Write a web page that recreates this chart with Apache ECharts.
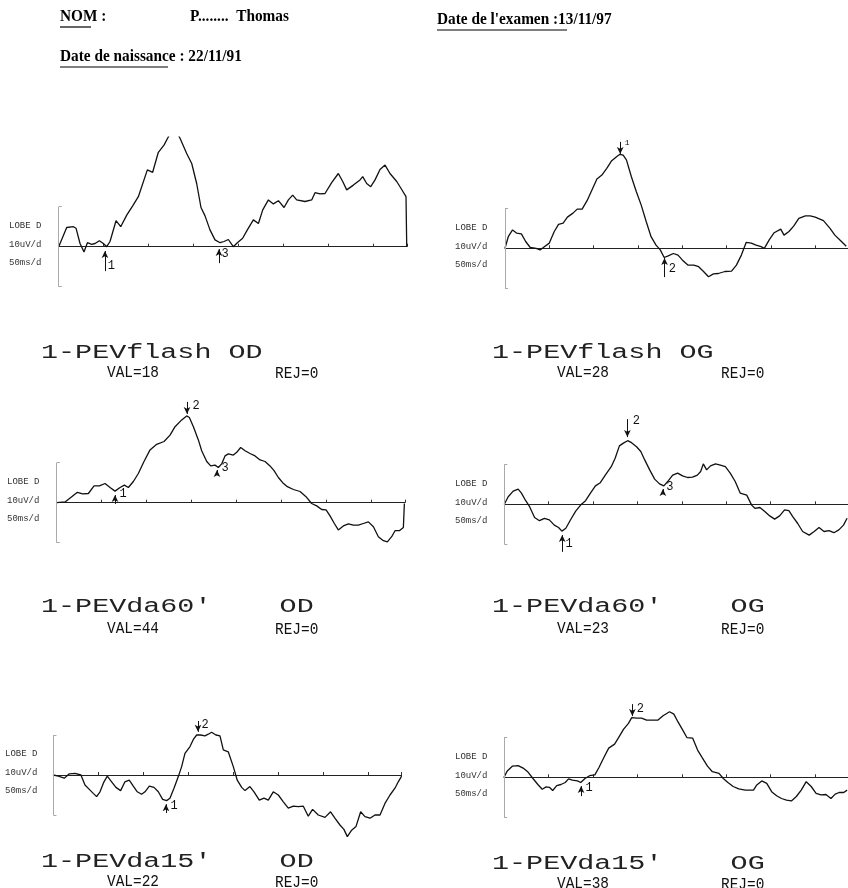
<!DOCTYPE html>
<html>
<head>
<meta charset="utf-8">
<script src="https://cdn.jsdelivr.net/npm/echarts@6/dist/echarts.min.js"></script>
<style>
  html, body { margin: 0; padding: 0; background: #fff; }
  #pev { width: 848px; height: 888px; }
</style>
</head>
<body>
<div id="pev"></div>
<script>
  // traces : [ms, uV]
  var traceFlashOD = [[0,0],[8.9,4.8],[16.3,5],[19.3,4.6],[23.7,0.8],[28.1,-1.3],[31.9,1],[36.7,0.6],[40.4,0.8],[45.2,1.5],[49.6,0.8],[53.3,0],[57,1.3],[63.7,6.5],[68.9,5],[75.6,7.9],[82.2,10.2],[88.5,12.5],[98.5,19.2],[104.4,18.6],[110.7,23.6],[117,25.4],[121,27.1],[128,30],[134.8,27.1],[142.2,23.3],[147.8,20.8],[153.3,15.8],[158.1,9.8],[162.6,7.7],[168.1,4.2],[173.7,1.7],[179.3,1],[183.7,1.3],[188.5,1.8],[194,0],[198.5,1],[204.4,2.1],[209.6,4.2],[216.3,6.7],[221.9,5.8],[226.7,9.2],[233,11.7],[238.5,10.7],[244.1,11.5],[250.4,9.8],[255.2,11.7],[260,12.9],[264.4,11.7],[273.7,11.3],[281.1,11.7],[284.8,13.5],[290.4,13.2],[295.9,13.3],[303.3,16],[310.7,18.3],[315.6,16.3],[320,14.2],[327.4,15.4],[334.8,16.7],[337.8,17.5],[342.2,15.8],[346.7,15],[351.5,16.7],[357,19.3],[362.6,20.4],[368.1,18.3],[375.6,16.3],[381.1,14.3],[385.9,12.5],[386.7,0]];
  var traceFlashOG = [[0,0],[3.7,2.9],[8.5,4.6],[13,3.8],[18.5,3.6],[23.3,1.7],[28.5,0.2],[35.2,0],[39.6,-0.4],[44.4,0.4],[50,1.3],[55.6,4.2],[60.4,6],[65.6,6.3],[70.4,7.8],[76.7,8.8],[81.5,9.8],[87,9.8],[92.6,11.9],[98.1,14.6],[103.7,17.3],[109.3,18.3],[114.8,20],[120.4,21.9],[125.9,22.9],[129.6,23.5],[133.3,23.3],[137,22.1],[142.6,17.9],[148.1,14.2],[153.7,10.8],[159.3,6.7],[164.8,2.9],[170.4,0.8],[175.2,-0.4],[179.6,-2.3],[184.1,-1.9],[190,-1.3],[195.2,-1.7],[200,-2.9],[206.3,-4.2],[213,-4.2],[218.5,-4.6],[224,-5.8],[229.6,-7.1],[235.2,-6.4],[240.7,-6.3],[248.1,-5.8],[255.6,-5.7],[261.1,-4.2],[266.7,-1.7],[272.2,1.5],[277.8,1.3],[283.3,0.8],[288.9,0.4],[292.6,0],[298.1,2.1],[303.7,3.9],[311.1,4.8],[314.8,3.3],[320.4,4.2],[325.9,5.6],[331.5,7.5],[338.9,8.1],[344.4,8.1],[350,7.8],[359.3,6.9],[366.7,5],[372.2,3.3],[379.6,1.7],[385,0.5]];
  var traceDa60OD = [[0,0],[9.3,0.2],[16.7,1.5],[23,2.6],[28.9,2.2],[35.2,2.3],[41.5,4.2],[47.4,4.2],[53.7,4.8],[59.3,3.8],[64.8,2.9],[70.4,3.8],[75.2,4.4],[79.6,3.8],[85.2,5.3],[90.7,7.3],[97,10.3],[103.7,13.2],[111.1,14.6],[119.3,15.3],[125.9,16.9],[131.5,19],[138.9,20.7],[144.4,21.7],[147.4,21.3],[151.9,19],[157.4,15.7],[161.1,13],[166.7,10.3],[171.1,9.2],[175.9,9.4],[179.6,8.8],[183.3,9.7],[187,11.7],[190.7,12.2],[196.3,11.9],[200,12.6],[204.4,13.8],[209.3,13],[214.8,12.3],[220.4,11.7],[226,10.7],[231.5,10.3],[237,9.2],[241.5,8],[246.3,6.3],[251.1,5],[256.3,4],[263,3.3],[270.4,2.8],[277,1.5],[283.3,-0.2],[288.9,-0.8],[294.4,-1.7],[299.3,-1.8],[303.7,-3.3],[308.5,-5.2],[312.9,-6.8],[318.5,-5.8],[324.1,-5.3],[329.6,-5.6],[335.2,-5.6],[340.7,-5.2],[346.3,-4.8],[351.9,-6],[357.4,-8.5],[363,-9.5],[367.4,-9.8],[372.2,-8.5],[375.9,-7],[380.7,-7],[385.2,-6.2],[386.3,-0.2]];
  var traceDa60OG = [[0,0],[4.4,1.9],[10,3.3],[15.6,3.8],[19.3,2.8],[24.1,0.9],[28.5,-0.6],[34.1,-3.3],[39.6,-4.1],[45.2,-3.5],[50.7,-3.9],[56.3,-5.2],[61.1,-5.8],[64.8,-6.7],[69.3,-6],[74.8,-3.8],[80.4,-1.7],[85.9,-0.2],[91.5,0.9],[97,2.8],[102.6,4.6],[108.1,5.4],[113.7,7.3],[120.4,9.4],[124.8,11.5],[129.6,14.6],[134.1,15.3],[138.9,15.9],[143.3,15.4],[148.9,14.4],[153.7,13.2],[158.1,11.1],[163.7,8.6],[169.3,6.3],[174.8,5.1],[179.6,4.6],[184.8,5.9],[189.6,7.3],[195.2,7.8],[200.7,7.1],[206.3,6.7],[211.9,6.8],[217.4,7.3],[221.1,8.2],[224.1,10.1],[227.8,8.6],[232.2,9.6],[237.8,10.1],[243.3,9.8],[248.9,9.4],[254.4,7.8],[260,5.7],[265.6,2.8],[273,2.3],[278.5,-0.2],[282.2,-1],[287.8,-0.8],[293.3,-1.8],[298.9,-2.9],[304.4,-3.7],[310,-2.9],[315.6,-1.4],[320.4,-1.6],[324.8,-3.1],[330.4,-4.8],[335.9,-6.8],[343.3,-7.7],[348.9,-6.8],[354.4,-5.8],[360,-6.8],[365.6,-6.6],[371.1,-7.1],[376.7,-6.4],[381.9,-5.2],[386,-3.5]];
  var traceDa15OD = [[0,0],[5.6,-0.3],[12.2,-0.8],[17.8,0.3],[24.1,0.4],[30.7,0],[35.2,-2.5],[40,-3.6],[44.4,-4.6],[48.1,-5.4],[51.9,-4.2],[56.3,-1.7],[60,-0.3],[64.8,-1.7],[69.6,-3.1],[74.8,-3.9],[79.6,-1.7],[84.4,-1.3],[88.9,-2.8],[93.3,-4.2],[98.1,-4.8],[101.9,-4.2],[106.7,-2.8],[111.9,-3.1],[116.7,-4.2],[121.5,-6.1],[125.9,-6.4],[129.6,-5.8],[134.1,-3.3],[138.9,-0.4],[142.6,2.1],[146.3,5.4],[151.9,7.1],[155.6,8.9],[159.3,10],[163.7,10],[168.5,9.8],[172.2,10.2],[175.9,10.7],[180.7,10],[185.2,9.8],[188.9,6.3],[194.4,5.8],[200,2.1],[204.4,-1.3],[209.3,-3.1],[213,-3.9],[218.5,-2.9],[223,-4.2],[228.9,-6.3],[234.1,-5.8],[238.9,-6.3],[244.4,-4.2],[250,-5],[255.6,-6.7],[261.1,-8.3],[266.7,-7.8],[272.2,-7.9],[277.8,-7.8],[283.3,-10.3],[288.1,-8.6],[294.4,-10],[301.9,-10.6],[308.1,-9.2],[312.9,-10.8],[318.5,-12.5],[322.9,-13.6],[326.7,-15.4],[331.5,-13.8],[336.3,-12.9],[341.5,-9.2],[346.3,-10.4],[351.9,-10.8],[357.4,-10],[363,-10],[368.5,-7.1],[374.1,-5],[379.6,-3.3],[383.3,-1.7],[387,-0.3]];
  var traceDa15OG = [[0,0],[3.7,1.6],[9.6,2.8],[15.9,2.9],[21.5,2.3],[27,1.3],[32.6,-0.3],[38.1,-1.8],[43,-3],[47.4,-2.4],[51.1,-2.5],[54.8,-3.3],[59.3,-2.1],[64.1,-1.8],[68.9,-1.3],[72.6,-0.4],[77,-0.7],[82.6,-0.9],[86.3,-1.3],[91.1,-0.3],[96.3,0.4],[102.2,0.6],[106.7,2.4],[112.2,4.9],[117.8,7.3],[124.4,8.3],[128.9,9.9],[134.4,12],[140,13.5],[143.7,14.9],[149.3,14.8],[154.8,14.8],[160.4,14.3],[165.2,14.3],[173.3,14.3],[178.9,15.4],[186.3,16.4],[191.1,15.8],[195.6,13.9],[201.1,11.8],[205.9,9.9],[212.2,9.8],[217.8,6.8],[223.3,4.8],[228.9,2.8],[234.4,1.4],[241.9,1],[246.7,-0.3],[251.9,-1.3],[257.8,-2.3],[264.1,-2.9],[271.5,-3.2],[280.7,-3.2],[284.4,-1.9],[290,-0.9],[295.6,-1.5],[301.1,-3.6],[306.7,-4.6],[312.2,-5.3],[317.8,-5.7],[323.3,-5.9],[328.9,-4.8],[334.4,-3.2],[340,-1.1],[345.6,-2.3],[351.1,-4],[356.7,-4.4],[362.2,-4.3],[367.8,-5.3],[372.6,-4.2],[377,-3.8],[382.2,-3.8],[386,-3.2]];

  // reperes : fleches [ms, queue uV, pointe uV] et chiffres [ms, uV, texte]
  var arrowsFlashOD = [[51.4,-6.1,-1.1],[178.1,-4.1,-0.6]];
  var digitsFlashOD = [[58.5,-4.8,'1'],[184.8,-1.8,'3']];
  var arrowsFlashOG = [[130,26.6,23.6],[180,-7.2,-2.4]];
  var digitsFlashOG = [[137.8,26.3,'1'],[188.9,-5.2,'2']];
  var arrowsDa60OD = [[144.8,25.2,22.2],[64.8,-0.3,1.9],[178.1,7.2,8.2]];
  var digitsDa60OD = [[154.8,24.2,'2'],[73.7,2.2,'1'],[187,8.7,'3']];
  var arrowsDa60OG = [[138.6,21.3,16.8],[65.2,-11.9,-7.7],[178.6,2.6,3.8]];
  var digitsDa60OG = [[148.6,20.8,'2'],[73,-9.9,'1'],[186.3,4.3,'3']];
  var arrowsDa15OD = [[160.8,13.5,10.8],[125.2,-9.5,-7.3]];
  var digitsDa15OD = [[168.6,12.5,'2'],[134.1,-7.8,'1']];
  var arrowsDa15OG = [[144.4,18.3,15.3],[86.7,-4.7,-2.2]];
  var digitsDa15OG = [[153.3,17.1,'2'],[95.6,-2.7,'1']];

  var titles = ['1-PEVflash OD', '1-PEVflash OG', '1-PEVda60\u2032    OD', '1-PEVda60\u2032    OG', '1-PEVda15\u2032    OD', '1-PEVda15\u2032    OG'];
  var vals = ['VAL=18', 'VAL=28', 'VAL=44', 'VAL=23', 'VAL=22', 'VAL=38'];
  var rejs = ['REJ=0', 'REJ=0', 'REJ=0', 'REJ=0', 'REJ=0', 'REJ=0'];
  var sideLabels = ['LOBE D', '10uV/d', '50ms/d'];

  var traces = [traceFlashOD, traceFlashOG, traceDa60OD, traceDa60OG, traceDa15OD, traceDa15OG];
  var arrows = [arrowsFlashOD, arrowsFlashOG, arrowsDa60OD, arrowsDa60OG, arrowsDa15OD, arrowsDa15OG];
  var digits = [digitsFlashOD, digitsFlashOG, digitsDa60OD, digitsDa60OG, digitsDa15OD, digitsDa15OG];

  // mise en page (px)
  var layout = [
    {left: 58.7, base: 246.7, yMax: 27.4, labelX: 9, titleY: 353, valY: 372},
    {left: 505, base: 248.3, yMax: 30, labelX: 455, titleY: 353, valY: 372},
    {left: 56.7, base: 502.7, yMax: 30, labelX: 7, titleY: 607, valY: 628},
    {left: 504.3, base: 504.3, yMax: 30, labelX: 455, titleY: 607, valY: 628},
    {left: 53.3, base: 775, yMax: 30, labelX: 5, titleY: 862, valY: 881},
    {left: 504, base: 777.3, yMax: 30, labelX: 455, titleY: 864, valY: 883}
  ];
  var X_MAX = 387, PX_MS = 0.9, PX_UV = 4, Y_MIN = -20;

  var grids = [], xAxes = [], yAxes = [], series = [], graphic = [];

  layout.forEach(function (p, i) {
    var right = i % 2 === 1;
    grids.push({
      left: p.left, top: p.base - PX_UV * p.yMax,
      width: X_MAX * PX_MS, height: PX_UV * (p.yMax - Y_MIN)
    });
    xAxes.push({
      type: 'value', gridIndex: i, min: 0, max: X_MAX, interval: 50,
      axisLine: {onZero: true, lineStyle: {color: '#222', width: 1}},
      axisTick: {show: true, inside: true, length: 3, lineStyle: {color: '#333'}},
      axisLabel: {show: false},
      splitLine: {show: false}
    });
    yAxes.push({
      type: 'value', gridIndex: i, min: Y_MIN, max: p.yMax, show: false,
      splitLine: {show: false}
    });

    var lines = [
      // crochet d'echelle 10uV
      [{coord: [0, -10], symbol: 'none'}, {coord: [0, 10], symbol: 'none', lineStyle: {color: '#aaa', width: 1}}],
      [{coord: [0, 10], symbol: 'none'}, {coord: [3.5, 10], symbol: 'none', lineStyle: {color: '#aaa', width: 1}}],
      [{coord: [0, -10], symbol: 'none'}, {coord: [3.5, -10], symbol: 'none', lineStyle: {color: '#aaa', width: 1}}]
    ];
    arrows[i].forEach(function (a) {
      lines.push([{coord: [a[0], a[2]], symbol: 'arrow'}, {coord: [a[0], a[1]], symbol: 'none'}]);
    });

    series.push({
      type: 'line', xAxisIndex: i, yAxisIndex: i,
      data: traces[i], symbol: 'none', clip: true,
      lineStyle: {color: '#111', width: 1.3},
      markLine: {
        silent: true, animation: false, symbolSize: [5, 7],
        label: {show: false},
        lineStyle: {color: '#111', width: 1, type: 'solid'},
        emphasis: {disabled: true},
        data: lines
      },
      markPoint: {
        silent: true, animation: false, symbol: 'circle', symbolSize: 0,
        label: {show: true, position: 'inside', formatter: '{b}', color: '#111',
          fontFamily: 'Liberation Mono', fontSize: 12},
        data: digits[i].map(function (d) {
          var small = (i === 1 && d[2] === '1');
          return {name: d[2], coord: [d[0], d[1]], label: small ? {fontSize: 8} : undefined};
        })
      }
    });

    // etiquettes a gauche du trace
    [-21, -2, 16].forEach(function (dy, k) {
      graphic.push({type: 'text', x: p.labelX, y: p.base + dy, silent: true,
        style: {text: sideLabels[k], font: '9px "Liberation Mono"', fill: '#333', verticalAlign: 'middle'}});
    });
    graphic.push({type: 'text', x: right ? 492 : 41, y: p.titleY, scaleX: 1.42, silent: true,
      style: {text: titles[i], font: '20px "Liberation Mono"', fill: '#222', verticalAlign: 'middle'}});
    graphic.push({type: 'text', x: right ? 557 : 107, y: p.valY, scaleX: 0.85, silent: true,
      style: {text: vals[i], font: '17px "Liberation Mono"', fill: '#111', verticalAlign: 'middle'}});
    graphic.push({type: 'text', x: right ? 721 : 275, y: p.valY + 1, scaleX: 0.85, silent: true,
      style: {text: rejs[i], font: '17px "Liberation Mono"', fill: '#111', verticalAlign: 'middle'}});
  });

  // en-tete
  var headFont = 'bold 17px "Liberation Serif"';
  [
    {x: 60, y: 17, t: 'NOM :'},
    {x: 190, y: 17, t: 'P........  Thomas'},
    {x: 437, y: 20, t: 'Date de l\'examen :13/11/97'},
    {x: 60, y: 57, t: 'Date de naissance : 22/11/91'}
  ].forEach(function (h) {
    graphic.push({type: 'text', x: h.x, y: h.y, scaleX: 0.9, silent: true,
      style: {text: h.t, font: headFont, fill: '#000', verticalAlign: 'middle'}});
  });
  [[60, 91, 27], [437, 567, 30], [60, 168, 67]].forEach(function (u) {
    graphic.push({type: 'line', silent: true, shape: {x1: u[0], y1: u[2], x2: u[1], y2: u[2]},
      style: {stroke: '#000', lineWidth: 1.2}});
  });

  var chart = echarts.init(document.getElementById('pev'));
  chart.setOption({
    backgroundColor: '#fff',
    animation: false,
    grid: grids,
    xAxis: xAxes,
    yAxis: yAxes,
    series: series,
    graphic: graphic
  });
  window.addEventListener('resize', chart.resize);
</script>
</body>
</html>
